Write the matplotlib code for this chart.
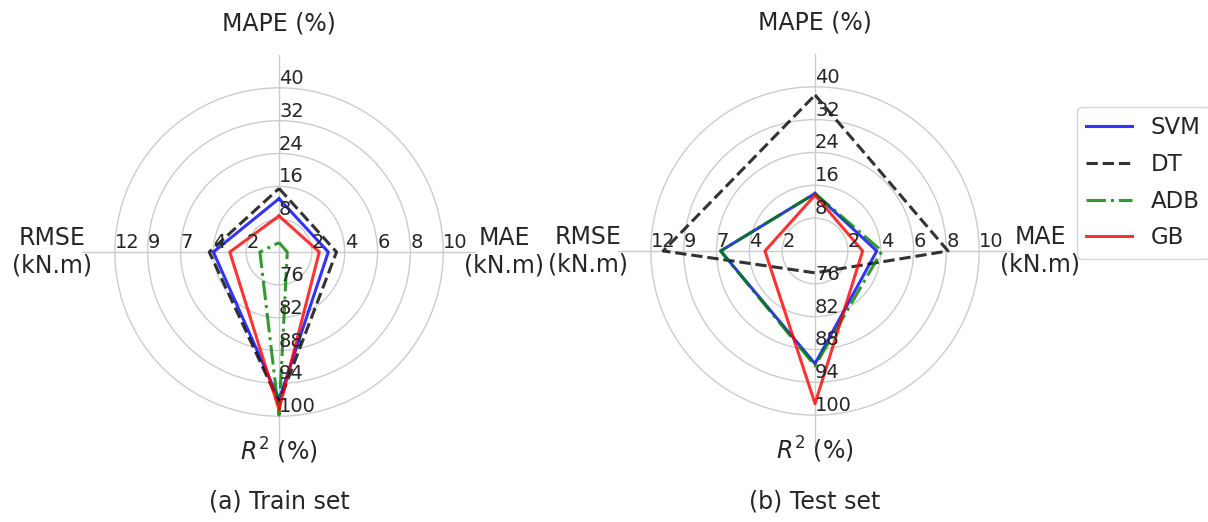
import numpy as np
import matplotlib
matplotlib.use('Agg')
from matplotlib import pyplot as plt

# 指标顺序: 上 MAPE, 右 MAE, 下 R2, 左 RMSE
metrics = ['MAPE (%)', 'MAE\n(kN.m)', '$R^2$ (%)', 'RMSE\n(kN.m)']
tick_mape = ['8', '16', '24', '32', '40']
tick_mae = ['2', '4', '6', '8', '10']
tick_r2 = ['76', '82', '88', '94', '100']
tick_rmse = ['2', '4', '7', '9', '12']

models = ['SVM', 'DT', 'ADB', 'GB']

# 训练集 [MAPE, MAE, R2, RMSE]
train_svm = [13.0, 3.0, 97.0, 4.8]
train_dt = [15.5, 3.5, 97.5, 5.1]
train_adb = [2.3, 0.5, 99.8, 1.4]
train_gb = [8.8, 2.45, 98.8, 3.6]

# 测试集
test_svm = [14.0, 3.76, 90.6, 6.9]
test_dt = [38.0, 8.1, 74.0, 11.1]
test_adb = [14.0, 4.07, 91.0, 6.9]
test_gb = [13.6, 2.9, 97.9, 3.66]

colors = ['blue', 'black', 'green', 'red']
styles = ['-', '--', '-.', '-']
text_color = '#262626'


def norm(v):
    # 把各指标缩放到 0~1
    return [v[0] / 40, v[1] / 10, (v[2] - 70) / 30, v[3] / 12]


def radar(ax, data):
    angles = np.arange(4) * np.pi / 2
    ax.set_theta_offset(np.pi / 2)
    ax.set_theta_direction(-1)
    for d, c, ls, name in zip(data, colors, styles, models):
        r = norm(d)
        ax.plot(list(angles) + [angles[0]], r + [r[0]], color=c, ls=ls,
                lw=2.2, alpha=0.8, label=name)
    ax.set_ylim(0, 1.2)
    ax.set_xticks(angles)
    ax.set_xticklabels([])
    rings = [0.2, 0.4, 0.6, 0.8, 1.0]
    ax.set_yticks(rings)
    ax.set_yticklabels([])
    ax.grid(color='#cccccc', lw=1)
    ax.spines['polar'].set_visible(False)
    ax.set_facecolor('white')
    # 每个轴上的刻度数字
    for a, labels in zip(angles, [tick_mape, tick_mae, tick_r2, tick_rmse]):
        for rr, t in zip(rings, labels):
            ax.text(a, rr, t, ha='left', va='bottom', fontsize=14,
                    color=text_color)
    label_r = [1.39, 1.37, 1.21, 1.38]
    for a, m, lr in zip(angles, metrics, label_r):
        ax.text(a, lr, m, ha='center', va='center', fontsize=17,
                color=text_color, multialignment='center')


fig = plt.figure(figsize=(12.08, 5.22), dpi=100)
ax1 = fig.add_axes([0.0679, 0.1398, 0.3262, 0.7548], projection='polar')
ax2 = fig.add_axes([0.5116, 0.1418, 0.3262, 0.7548], projection='polar')

radar(ax1, [train_svm, train_dt, train_adb, train_gb])
radar(ax2, [test_svm, test_dt, test_adb, test_gb])

fig.text(279 / 1208, 1 - 502 / 522, '(a) Train set', ha='center', va='center',
         fontsize=17, color=text_color)
fig.text(815 / 1208, 1 - 502 / 522, '(b) Test set', ha='center', va='center',
         fontsize=17, color=text_color)

h, l = ax2.get_legend_handles_labels()
leg = fig.legend(h, l, loc='upper left', bbox_to_anchor=(1077 / 1208, 1 - 107 / 522),
                 borderaxespad=0, fontsize=16.5, labelspacing=0.6,
                 edgecolor='#cccccc', fancybox=True)
for t in leg.get_texts():
    t.set_color(text_color)

plt.savefig('out.png', dpi=100)
